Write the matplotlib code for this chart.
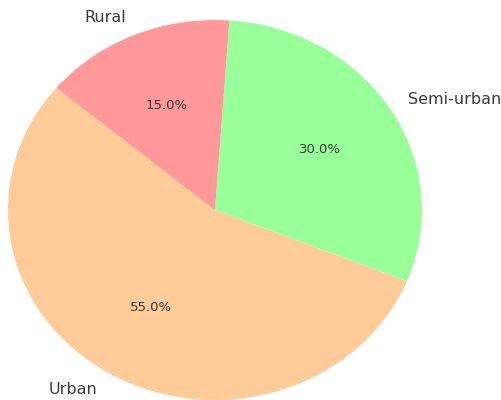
import matplotlib.pyplot as plt

areas = ['Urban', 'Semi-urban', 'Rural']
shares = [55, 30, 15]
colors = ['#ffcc99', '#99ff99', '#ff9999']

fig = plt.figure(figsize=(5.02, 4.00), dpi=100)
ax = fig.add_axes([8 / 502, 0.0, 414 / 502, 380 / 400])

wedges, texts, autotexts = ax.pie(
    shares, labels=areas, colors=colors, autopct='%1.1f%%',
    startangle=140, textprops={'color': '#3a3a3a'})
for t in texts:
    t.set_fontsize(11.5)
for t in autotexts:
    t.set_fontsize(9.5)

# let the pie fill the axes box
ax.set_aspect('auto')
ax.set_xlim(-1, 1)
ax.set_ylim(-1, 1)

fig.savefig('out.png', dpi=100)
